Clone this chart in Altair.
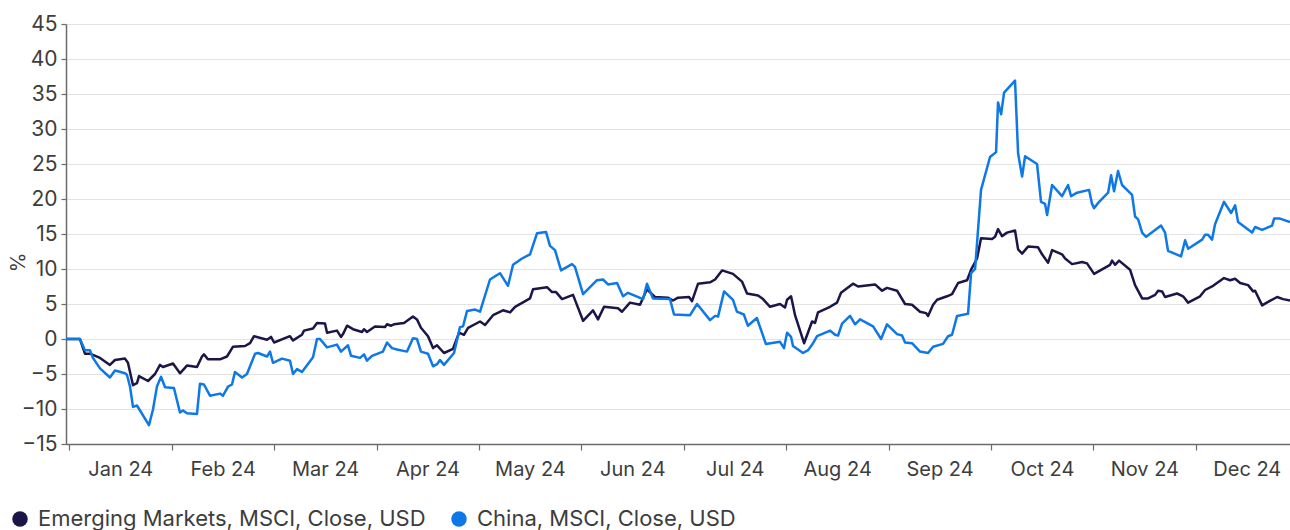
import altair as alt
import pandas as pd

month_labels = ["Jan 24", "Feb 24", "Mar 24", "Apr 24", "May 24", "Jun 24",
                "Jul 24", "Aug 24", "Sep 24", "Oct 24", "Nov 24", "Dec 24"]
series_names = ["Emerging Markets, MSCI, Close, USD", "China, MSCI, Close, USD"]
series_colors = ["#1c1548", "#0e78e6"]

# time in months since 1 Jan 2024 (month bands of equal width)
em_t = [-0.032, 0.104, 0.153, 0.202, 0.300, 0.397, 0.446, 0.544, 0.573, 0.622, 0.661, 0.681,
        0.769, 0.837, 0.886, 0.915, 1.013, 1.081, 1.149, 1.247, 1.296, 1.315, 1.354, 1.472,
        1.540, 1.599, 1.716, 1.765, 1.804, 1.931, 1.970, 2.000, 2.155, 2.185, 2.272, 2.292,
        2.380, 2.419, 2.497, 2.517, 2.614, 2.653, 2.673, 2.712, 2.771, 2.858, 2.878, 2.907,
        2.985, 3.083, 3.103, 3.142, 3.171, 3.269, 3.356, 3.395, 3.434, 3.503, 3.552, 3.591,
        3.659, 3.747, 3.806, 3.854, 3.894, 4.011, 4.060, 4.138, 4.235, 4.304, 4.353, 4.499,
        4.528, 4.665, 4.714, 4.753, 4.812, 4.919, 5.017, 5.114, 5.163, 5.222, 5.358, 5.397,
        5.475, 5.573, 5.641, 5.719, 5.846, 5.895, 5.944, 6.052, 6.081, 6.140, 6.257, 6.306,
        6.374, 6.481, 6.569, 6.618, 6.726, 6.774, 6.843, 6.940, 6.989, 7.009, 7.048, 7.087,
        7.175, 7.253, 7.282, 7.311, 7.429, 7.497, 7.536, 7.653, 7.702, 7.868, 7.937, 7.985,
        8.083, 8.161, 8.229, 8.307, 8.366, 8.386, 8.435, 8.474, 8.571, 8.620, 8.679, 8.767,
        8.806, 8.864, 8.903, 9.011, 9.040, 9.069, 9.108, 9.157, 9.235, 9.265, 9.304, 9.362,
        9.460, 9.499, 9.558, 9.597, 9.694, 9.724, 9.792, 9.890, 9.938, 10.007, 10.163, 10.183,
        10.212, 10.251, 10.358, 10.407, 10.476, 10.534, 10.603, 10.632, 10.671, 10.700, 10.817,
        10.876, 10.925, 11.042, 11.091, 11.169, 11.276, 11.335, 11.384, 11.433, 11.511, 11.560,
        11.579, 11.648, 11.706, 11.794, 11.853, 11.920]
em_v = [0.0, 0.0, -2.1, -2.1, -2.7, -3.7, -3.0, -2.8, -3.4, -6.6, -6.3, -5.3,
        -6.0, -5.0, -3.7, -4.0, -3.5, -4.9, -3.8, -4.0, -2.5, -2.2, -2.9, -2.9,
        -2.5, -1.1, -1.0, -0.6, 0.4, -0.1, 0.3, -0.5, 0.4, -0.2, 0.6, 1.2,
        1.5, 2.3, 2.2, 0.9, 1.2, 0.3, 0.7, 1.9, 1.4, 1.0, 1.4, 1.0,
        1.8, 1.7, 2.1, 1.9, 2.1, 2.3, 3.2, 2.8, 1.6, 0.4, -1.3, -0.9,
        -2.0, -1.4, 0.9, 0.6, 1.6, 2.5, 2.0, 3.4, 4.1, 3.8, 4.6, 5.8,
        7.1, 7.4, 6.7, 6.7, 5.7, 6.3, 2.6, 4.1, 2.8, 4.6, 4.4, 3.9,
        5.2, 4.9, 7.1, 6.0, 5.9, 5.5, 5.9, 6.0, 5.4, 7.9, 8.1, 8.5,
        9.8, 9.3, 8.2, 6.5, 6.2, 5.7, 4.6, 5.0, 4.5, 5.6, 6.1, 3.4,
        -0.6, 2.5, 2.3, 3.8, 4.6, 5.2, 6.6, 7.9, 7.5, 7.8, 6.9, 7.3,
        6.9, 5.0, 4.9, 3.9, 3.7, 3.3, 4.9, 5.6, 6.1, 6.4, 8.0, 8.4,
        9.9, 11.5, 14.4, 14.3, 14.6, 15.7, 14.7, 15.2, 15.5, 12.8, 12.2, 13.2,
        13.1, 12.1, 10.9, 12.7, 12.1, 11.5, 10.7, 11.0, 10.8, 9.3, 10.6, 11.2,
        10.6, 11.2, 9.9, 7.7, 5.8, 5.8, 6.3, 6.9, 6.8, 6.0, 6.5,
        6.1, 5.2, 6.1, 7.0, 7.6, 8.7, 8.4, 8.6, 8.0, 7.7, 6.8,
        6.9, 4.8, 5.3, 6.0, 5.7, 5.5]

cn_t = [-0.032, 0.104, 0.153, 0.202, 0.231, 0.300, 0.397, 0.446, 0.544, 0.563, 0.593, 0.622,
        0.661, 0.778, 0.817, 0.856, 0.896, 0.935, 1.022, 1.081, 1.110, 1.149, 1.247, 1.276,
        1.315, 1.374, 1.472, 1.501, 1.550, 1.589, 1.618, 1.687, 1.735, 1.814, 1.843, 1.931,
        1.960, 1.989, 2.077, 2.155, 2.185, 2.224, 2.272, 2.380, 2.419, 2.448, 2.517, 2.614,
        2.653, 2.722, 2.751, 2.839, 2.878, 2.907, 2.956, 3.063, 3.103, 3.151, 3.200, 3.298,
        3.356, 3.395, 3.434, 3.503, 3.552, 3.591, 3.620, 3.659, 3.757, 3.815, 3.845, 3.884,
        3.962, 4.011, 4.108, 4.206, 4.284, 4.333, 4.421, 4.499, 4.567, 4.655, 4.694, 4.743,
        4.802, 4.909, 4.938, 5.017, 5.153, 5.212, 5.261, 5.349, 5.407, 5.456, 5.603, 5.641,
        5.700, 5.866, 5.905, 6.062, 6.130, 6.257, 6.306, 6.335, 6.394, 6.481, 6.519, 6.587,
        6.626, 6.714, 6.802, 6.940, 6.979, 7.009, 7.048, 7.067, 7.165, 7.214, 7.263, 7.302,
        7.429, 7.478, 7.507, 7.546, 7.624, 7.673, 7.722, 7.849, 7.927, 7.985, 8.083, 8.132,
        8.161, 8.229, 8.307, 8.386, 8.435, 8.532, 8.581, 8.620, 8.669, 8.776, 8.806, 8.845,
        8.903, 8.991, 9.050, 9.069, 9.099, 9.128, 9.235, 9.265, 9.304, 9.333, 9.450, 9.489,
        9.528, 9.548, 9.597, 9.694, 9.753, 9.782, 9.841, 9.958, 9.987, 10.007, 10.056, 10.144,
        10.173, 10.202, 10.241, 10.280, 10.378, 10.407, 10.437, 10.476, 10.515, 10.661, 10.700,
        10.729, 10.856, 10.896, 10.925, 11.062, 11.091, 11.120, 11.159, 11.188, 11.276, 11.345,
        11.384, 11.413, 11.550, 11.579, 11.648, 11.745, 11.765, 11.823, 11.920]
cn_v = [0.0, 0.0, -1.6, -1.6, -2.7, -4.2, -5.5, -4.5, -4.9, -5.1, -6.8, -9.7,
        -9.5, -12.3, -10.1, -6.8, -5.4, -6.9, -7.0, -10.5, -10.2, -10.6, -10.7, -6.4,
        -6.5, -8.1, -7.8, -8.1, -6.8, -6.5, -4.7, -5.5, -5.0, -2.1, -2.0, -2.5,
        -1.8, -3.4, -2.8, -3.1, -5.0, -4.3, -4.7, -2.6, 0.0, 0.0, -1.2, -0.8,
        -1.8, -0.9, -2.4, -2.7, -2.2, -3.1, -2.4, -1.8, -0.5, -1.3, -1.5, -1.8,
        0.1, 0.0, -1.8, -2.1, -3.9, -3.6, -3.0, -3.7, -2.0, 1.7, 1.8, 4.0,
        4.2, 3.9, 8.5, 9.4, 7.6, 10.6, 11.5, 12.1, 15.1, 15.3, 13.3, 12.7,
        9.8, 10.7, 10.3, 6.4, 8.4, 8.5, 7.8, 8.0, 6.1, 6.6, 5.7, 7.9,
        5.8, 5.7, 3.5, 3.4, 5.0, 2.7, 3.3, 3.2, 6.8, 5.6, 3.9, 3.5,
        1.9, 3.0, -0.7, -0.4, -1.3, 0.9, 0.3, -1.0, -2.0, -1.6, -0.6, 0.4,
        1.2, 0.6, 0.5, 2.2, 3.3, 2.1, 2.8, 1.8, 0.0, 2.1, 0.7, 0.5,
        -0.5, -0.6, -1.8, -2.0, -1.1, -0.7, 0.4, 0.6, 3.3, 3.6, 9.4, 10.0,
        21.3, 26.0, 26.7, 33.8, 32.1, 35.2, 36.9, 26.5, 23.2, 26.1, 25.0, 19.6,
        19.3, 17.7, 22.0, 20.4, 22.0, 20.4, 20.9, 21.3, 19.3, 18.7, 19.6, 20.9,
        23.4, 21.1, 24.0, 22.0, 20.6, 17.5, 17.1, 15.2, 14.6, 16.2, 15.2,
        12.6, 11.8, 14.1, 12.9, 14.2, 14.9, 14.9, 14.2, 16.4, 19.6, 18.0,
        19.1, 16.7, 15.2, 16.0, 15.6, 16.2, 17.2, 17.2, 16.7]

y_ticks = list(range(-15, 50, 5))

df = pd.DataFrame({
    "t": em_t + cn_t,
    "v": em_v + cn_v,
    "series": [series_names[0]] * len(em_t) + [series_names[1]] * len(cn_t),
    "order": list(range(len(em_t))) + list(range(len(cn_t))),
})

FONT = "Inter"
TXT = "#3d3d3d"
AX = "#6b6b6b"
label_expr = "[" + ",".join("'" + m + "'" for m in month_labels) + "][datum.value]"

x_enc = alt.X("t:Q",
              scale=alt.Scale(domain=[-0.032, 11.92], nice=False, zero=False),
              axis=alt.Axis(values=list(range(12)), labelExpr=label_expr, grid=False, title=None,
                            labelOffset=51, tickSize=6, labelPadding=9, labelFlush=False,
                            labelOverlap=False, labelBound=False, labelFont=FONT,
                            labelFontSize=20, labelColor=TXT, domainColor=AX,
                            tickColor=AX, domainWidth=1.5, tickWidth=1.2))
y_enc = alt.Y("v:Q",
              scale=alt.Scale(domain=[-15, 45], nice=False, zero=False),
              axis=alt.Axis(values=y_ticks, title="%", titleFont=FONT, titleFontSize=20,
                            titleFontWeight="normal", titleColor=TXT, titleX=-48, titleY=238,
                            titleAlign="center", titleBaseline="middle",
                            labelFont=FONT, labelFontSize=21, labelColor=TXT, labelPadding=4,
                            tickSize=5, domainColor=AX, tickColor=AX,
                            domainWidth=1.5, tickWidth=1.2, gridColor="#e3e3e3", gridWidth=1))
color_scale = alt.Scale(domain=series_names, range=series_colors)

lines = alt.Chart(df).mark_line(strokeWidth=2.5, strokeJoin="round").encode(
    x=x_enc, y=y_enc,
    color=alt.Color("series:N", scale=color_scale, legend=None),
    order="order:Q",
)

# legend carrier: a filled-circle layer with no visible marks
legend_layer = alt.Chart(df).mark_point(filled=True, shape="circle", opacity=1, size=240).encode(
    x=x_enc, y=y_enc,
    color=alt.Color("series:N", scale=color_scale,
                    legend=alt.Legend(title=None, orient="none", legendX=-57, legendY=484,
                                      direction="horizontal", symbolType="circle",
                                      symbolSize=240, symbolStrokeWidth=0, symbolOpacity=1,
                                      padding=0, labelFont=FONT, labelFontSize=22,
                                      labelColor=TXT, labelOffset=7, labelLimit=0,
                                      columnPadding=22)),
).transform_filter("false")

chart = alt.layer(lines, legend_layer).resolve_legend(color="independent").properties(
    width=1224, height=420,
    autosize=alt.AutoSizeParams(type="none"),
    padding={"left": 66, "top": 24, "right": 0, "bottom": 86},
).configure_view(stroke=None)

chart.save("out.html", embed_options={"renderer": "svg", "actions": False})
